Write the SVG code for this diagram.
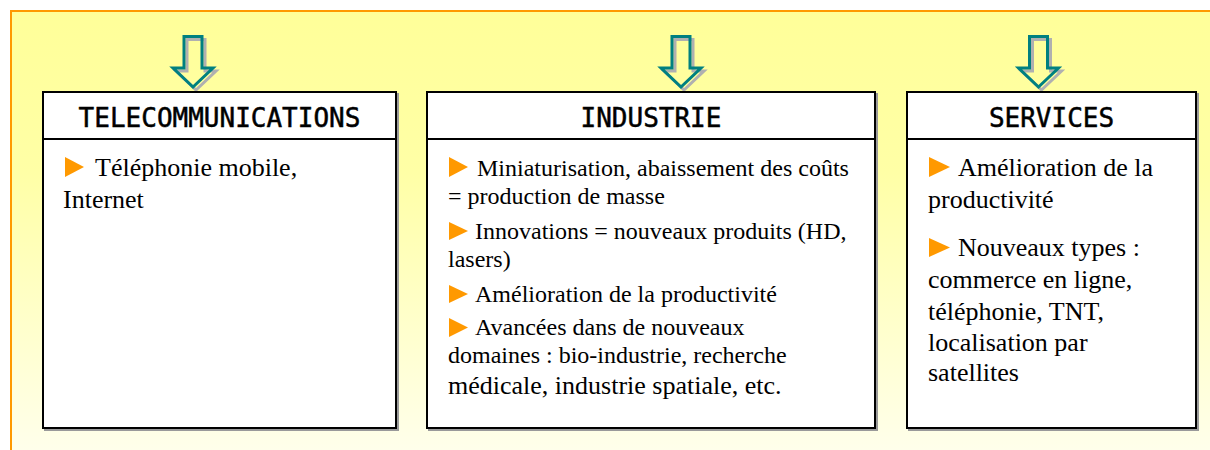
<svg xmlns="http://www.w3.org/2000/svg" xmlns:xlink="http://www.w3.org/1999/xlink" width="1210" height="450" viewBox="0 0 1210 450">
  <style>
    .hdr { font-family: "DejaVu Sans Mono", "Liberation Mono", monospace; font-size: 26px; fill: #000; stroke: #000; stroke-width: 0.5px; text-anchor: middle; }
    .body { font-family: "Liberation Serif", "Times New Roman", serif; fill: #000; }
    .s24 { font-size: 24px; }
    .s26 { font-size: 26px; }
    .box { fill: #fff; stroke: #000; stroke-width: 2; }
    .shadow { fill: none; stroke: #9a9a9a; stroke-width: 2; }
    .bullet { fill: #FF9900; }
  </style>
  <defs>
    <linearGradient id="bg" x1="0" y1="0" x2="0" y2="1">
      <stop offset="0" stop-color="#FFFF99"/>
      <stop offset="0.35" stop-color="#FFFFA6"/>
      <stop offset="1" stop-color="#FFFFF0"/>
    </linearGradient>
    <polygon id="arrow" points="-9,36.5 9,36.5 9,68 20,68 0,87 -20,68 -9,68" stroke-linejoin="miter" stroke-miterlimit="10"/>
  </defs>

  <rect x="0" y="0" width="1210" height="450" fill="#fff"/>
  <rect x="11" y="11" width="1220" height="460" fill="url(#bg)" stroke="#FF9900" stroke-width="2"/>

  <g id="connectors">
    <use xlink:href="#arrow" transform="translate(196,3)" fill="none" stroke="#B0B0B0" stroke-width="3"/>
    <use xlink:href="#arrow" transform="translate(193,0)" fill="none" stroke="#008080" stroke-width="3"/>
    <use xlink:href="#arrow" transform="translate(684,3)" fill="none" stroke="#B0B0B0" stroke-width="3"/>
    <use xlink:href="#arrow" transform="translate(681,0)" fill="none" stroke="#008080" stroke-width="3"/>
    <use xlink:href="#arrow" transform="translate(1041.5,3)" fill="none" stroke="#B0B0B0" stroke-width="3"/>
    <use xlink:href="#arrow" transform="translate(1038.5,0)" fill="none" stroke="#008080" stroke-width="3"/>
  </g>

  <g id="telecom">
    <rect class="shadow" x="45" y="94" width="353" height="336"/>
    <rect class="box" x="43" y="92" width="353" height="47"/>
    <rect class="box" x="43" y="139" width="353" height="289"/>
    <text class="hdr" x="219.5" y="127">TELECOMMUNICATIONS</text>
    <polygon class="bullet" points="65,157 84,167 65,177"/>
    <text class="body s26" x="95" y="176">Téléphonie mobile,</text>
    <text class="body s26" x="63" y="208">Internet</text>
  </g>

  <g id="industrie">
    <rect class="shadow" x="429" y="94" width="448" height="336"/>
    <rect class="box" x="427" y="92" width="448" height="47"/>
    <rect class="box" x="427" y="139" width="448" height="289"/>
    <text class="hdr" x="651" y="127">INDUSTRIE</text>
    <polygon class="bullet" points="449,157 468,167 449,177"/>
    <text class="body s24" x="477" y="176">Miniaturisation, abaissement des coûts</text>
    <text class="body s24" x="448" y="204">= production de masse</text>
    <polygon class="bullet" points="449,222 468,231 449,240"/>
    <text class="body s24" x="475" y="239">Innovations = nouveaux produits (HD,</text>
    <text class="body s24" x="448" y="267">lasers)</text>
    <polygon class="bullet" points="449,285 468,294 449,303"/>
    <text class="body s24" x="475" y="302">Amélioration de la productivité</text>
    <polygon class="bullet" points="449,318 468,327.5 449,337"/>
    <text class="body s24" x="475" y="335">Avancées dans de nouveaux</text>
    <text class="body s24" x="448" y="363">domaines : bio-industrie, recherche</text>
    <text class="body s26" x="448" y="394">médicale, industrie spatiale, etc.</text>
  </g>

  <g id="services">
    <rect class="shadow" x="909" y="94" width="289" height="336"/>
    <rect class="box" x="907" y="92" width="289" height="47"/>
    <rect class="box" x="907" y="139" width="289" height="289"/>
    <text class="hdr" x="1051.5" y="127">SERVICES</text>
    <polygon class="bullet" points="929,157 950,167 929,177"/>
    <text class="body s26" x="958" y="176">Amélioration de la</text>
    <text class="body s26" x="928" y="208">productivité</text>
    <polygon class="bullet" points="929,238 950,247.5 929,257"/>
    <text class="body s26" x="958" y="256">Nouveaux types :</text>
    <text class="body s26" x="928" y="288">commerce en ligne,</text>
    <text class="body s26" x="928" y="320">téléphonie, TNT,</text>
    <text class="body s26" x="928" y="351">localisation par</text>
    <text class="body s26" x="928" y="381">satellites</text>
  </g>
</svg>
